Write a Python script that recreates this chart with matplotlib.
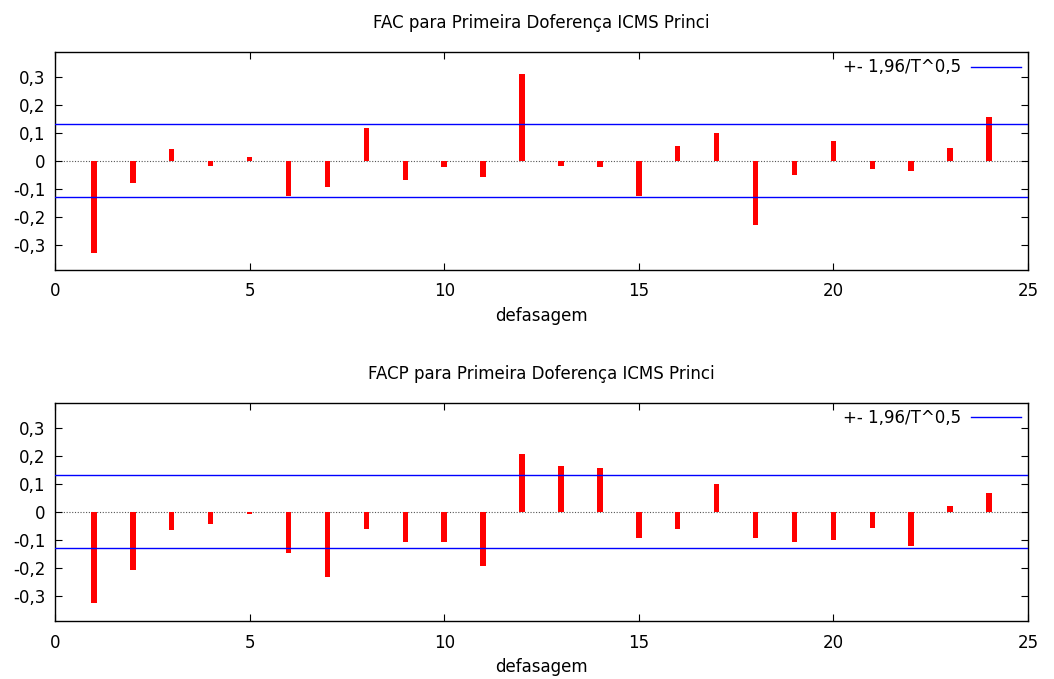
import numpy as np
from matplotlib import pyplot as plt

lags = np.arange(1, 25)

# autocorrelations
fac = [-0.329, -0.079, 0.044, -0.018, 0.012, -0.125, -0.092, 0.118,
       -0.069, -0.023, -0.058, 0.310, -0.018, -0.021, -0.126, 0.052,
       0.101, -0.231, -0.052, 0.071, -0.029, -0.037, 0.046, 0.156]
facp = [-0.325, -0.208, -0.064, -0.045, -0.007, -0.148, -0.232, -0.060,
        -0.109, -0.108, -0.192, 0.207, 0.162, 0.157, -0.095, -0.063,
        0.101, -0.092, -0.108, -0.101, -0.058, -0.121, 0.020, 0.067]
band = 0.1307  # 1,96/T^0,5

titles = ['FAC para Primeira Doferença ICMS Princi',
          'FACP para Primeira Doferença ICMS Princi']
yticks = [-0.3, -0.2, -0.1, 0, 0.1, 0.2, 0.3]
yticklabels = ['-0,3', '-0,2', '-0,1', '0', '0,1', '0,2', '0,3']
xticks = [0, 5, 10, 15, 20, 25]

plt.rcParams['font.family'] = ['DejaVu Sans']

fig = plt.figure(figsize=(10.54, 6.79), dpi=100)
ax1 = fig.add_axes([0.0522, 0.6024, 0.9231, 0.3215])
ax2 = fig.add_axes([0.0522, 0.0854, 0.9231, 0.3216])

for ax, vals, title in [(ax1, fac, titles[0]), (ax2, facp, titles[1])]:
    ax.axhline(0, color='#555555', lw=0.8, ls=(0, (1, 1.5)), zorder=1)
    ax.bar(lags, vals, width=0.14, color='red', zorder=2)
    ax.axhline(band, color='blue', lw=1, zorder=3, label='+- 1,96/T^0,5')
    ax.axhline(-band, color='blue', lw=1, zorder=3)
    ax.set_xlim(0, 25)
    ax.set_ylim(-0.39, 0.39)
    ax.set_xticks(xticks)
    ax.set_yticks(yticks)
    ax.set_yticklabels(yticklabels)
    ax.tick_params(direction='in', top=True, right=True, length=5,
                   labelsize=12, pad=7)
    ax.tick_params(axis='x', pad=9)
    for s in ax.spines.values():
        s.set_linewidth(1)
    ax.set_title(title, fontsize=12, pad=17)
    ax.set_xlabel('defasagem', fontsize=12, labelpad=5)
    ax.legend(loc='upper right', frameon=False, markerfirst=False,
              fontsize=12, handlelength=3.0, borderaxespad=0.0,
              handletextpad=0.6)

fig.savefig('out.png', dpi=100)
